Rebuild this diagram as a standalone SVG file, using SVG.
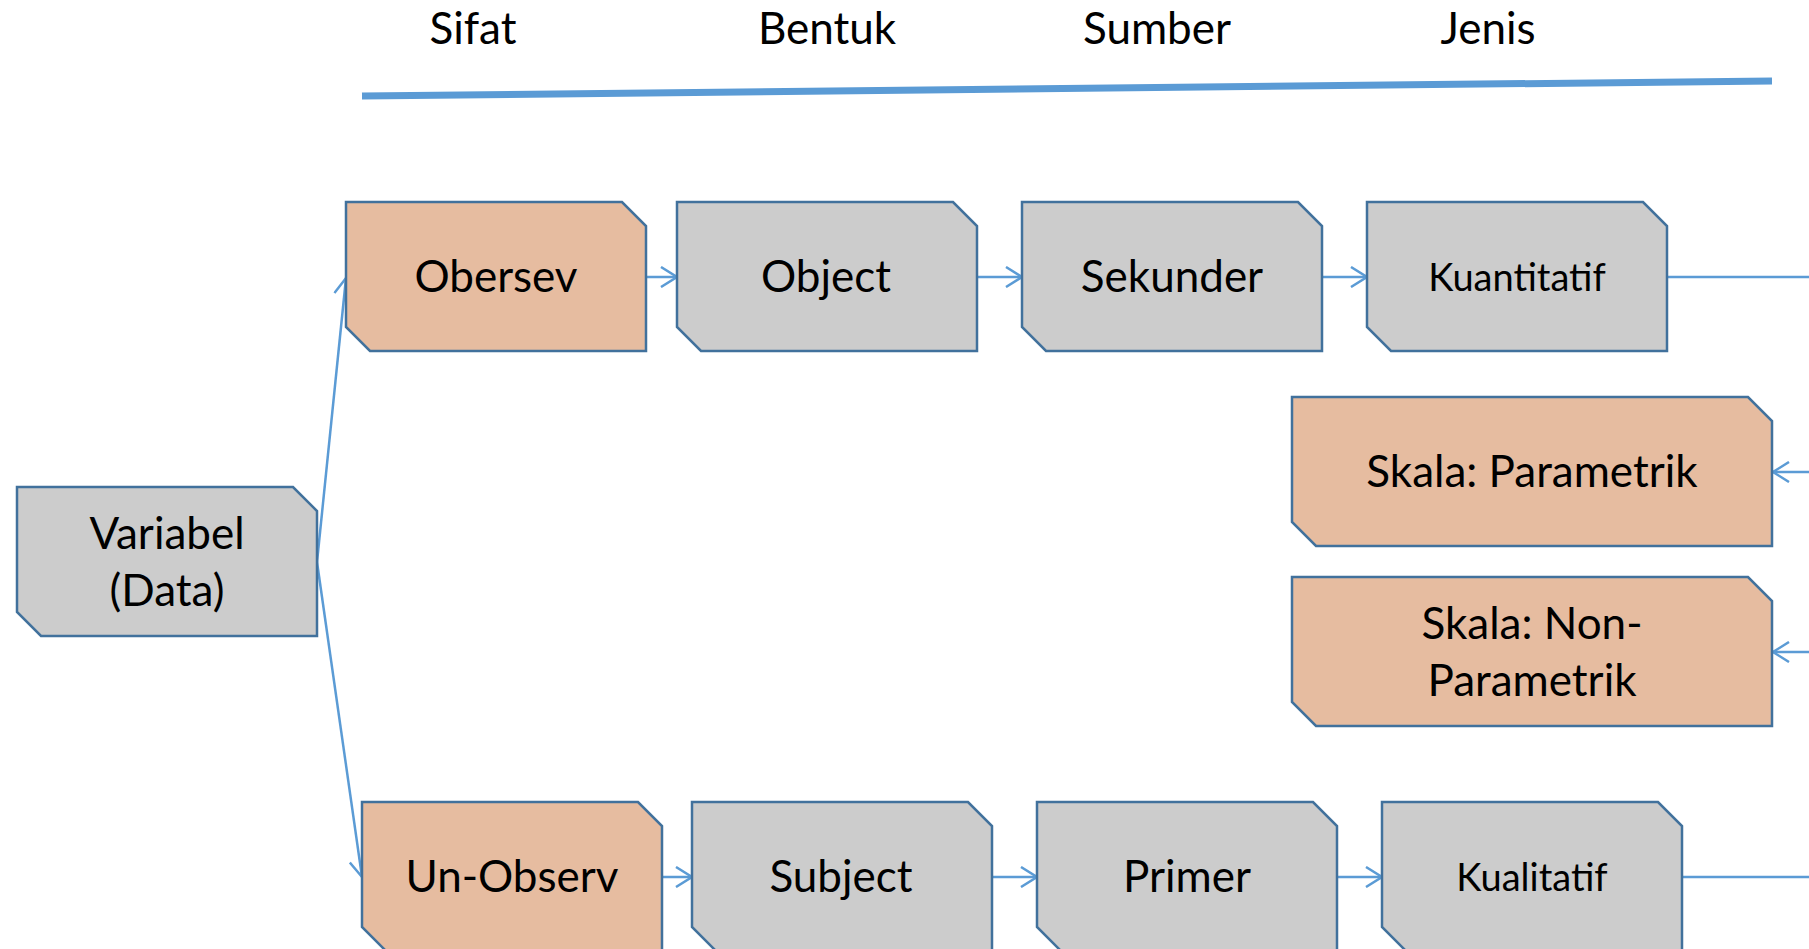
<svg xmlns="http://www.w3.org/2000/svg" width="1809" height="949" viewBox="0 0 1809 949">
  <defs>
    <style>
      .node-gray { fill: #CCCCCC; stroke: #41719C; stroke-width: 2.5; }
      .node-orange { fill: #E6BCA0; stroke: #41719C; stroke-width: 2.5; }
      .label { font-family: Lato, "Liberation Sans", sans-serif; font-size: 44px; fill: #000; text-anchor: middle; }
      .label-sm { font-size: 38px; }
      .edge { stroke: #5B9BD5; stroke-width: 2.5; fill: none; }
      .edge-arrow { marker-end: url(#arrow); }
    </style>
    <marker id="arrow" viewBox="0 0 20 22" refX="18" refY="11" markerWidth="20" markerHeight="22" markerUnits="userSpaceOnUse" orient="auto">
      <path d="M2,1 L18,11 L2,21" fill="none" stroke="#5B9BD5" stroke-width="2.5"/>
    </marker>
  </defs>

  <rect width="1809" height="949" fill="#FFFFFF"/>

  <!-- column headings -->
  <g id="headings">
    <text class="label" x="473" y="44">Sifat</text>
    <text class="label" x="827" y="44">Bentuk</text>
    <text class="label" x="1157" y="44">Sumber</text>
    <text class="label" x="1488" y="44">Jenis</text>
    <line x1="362" y1="96" x2="1772" y2="81" stroke="#5B9BD5" stroke-width="7"/>
  </g>

  <!-- connectors -->
  <g id="connectors">
    <line class="edge edge-arrow" x1="317" y1="562" x2="346" y2="278"/>
    <line class="edge edge-arrow" x1="317" y1="562" x2="362" y2="877"/>
    <line class="edge edge-arrow" x1="647" y1="277" x2="677" y2="277"/>
    <line class="edge edge-arrow" x1="977" y1="277" x2="1022" y2="277"/>
    <line class="edge edge-arrow" x1="1322" y1="277" x2="1367" y2="277"/>
    <line class="edge" x1="1667" y1="277" x2="1809" y2="277"/>
    <line class="edge edge-arrow" x1="1809" y1="472" x2="1773" y2="472"/>
    <line class="edge edge-arrow" x1="1809" y1="652" x2="1773" y2="652"/>
    <line class="edge edge-arrow" x1="662" y1="877" x2="692" y2="877"/>
    <line class="edge edge-arrow" x1="992" y1="877" x2="1037" y2="877"/>
    <line class="edge edge-arrow" x1="1337" y1="877" x2="1382" y2="877"/>
    <line class="edge" x1="1682" y1="877" x2="1809" y2="877"/>
  </g>

  <!-- nodes: rectangles with chamfered top-right and bottom-left corners -->
  <g id="node-variabel">
    <path class="node-gray" d="M17,487 H293 L317,511 V636 H41 L17,612 Z"/>
    <text class="label" x="167" y="549">Variabel</text>
    <text class="label" x="167" y="606">(Data)</text>
  </g>

  <g id="node-obersev">
    <path class="node-orange" d="M346,202 H622 L646,226 V351 H370 L346,327 Z"/>
    <text class="label" x="496" y="292">Obersev</text>
  </g>

  <g id="node-object">
    <path class="node-gray" d="M677,202 H953 L977,226 V351 H701 L677,327 Z"/>
    <text class="label" x="826" y="292">Object</text>
  </g>

  <g id="node-sekunder">
    <path class="node-gray" d="M1022,202 H1298 L1322,226 V351 H1046 L1022,327 Z"/>
    <text class="label" x="1172" y="292">Sekunder</text>
  </g>

  <g id="node-kuantitatif">
    <path class="node-gray" d="M1367,202 H1643 L1667,226 V351 H1391 L1367,327 Z"/>
    <text class="label label-sm" x="1517" y="291">Kuantitatif</text>
  </g>

  <g id="node-skala-parametrik">
    <path class="node-orange" d="M1292,397 H1748 L1772,421 V546 H1316 L1292,522 Z"/>
    <text class="label" x="1532" y="487">Skala: Parametrik</text>
  </g>

  <g id="node-skala-non-parametrik">
    <path class="node-orange" d="M1292,577 H1748 L1772,601 V726 H1316 L1292,702 Z"/>
    <text class="label" x="1532" y="639">Skala: Non-</text>
    <text class="label" x="1532" y="696">Parametrik</text>
  </g>

  <g id="node-un-observ">
    <path class="node-orange" d="M362,802 H638 L662,826 V951 H386 L362,927 Z"/>
    <text class="label" x="512" y="892">Un-Observ</text>
  </g>

  <g id="node-subject">
    <path class="node-gray" d="M692,802 H968 L992,826 V951 H716 L692,927 Z"/>
    <text class="label" x="841" y="892">Subject</text>
  </g>

  <g id="node-primer">
    <path class="node-gray" d="M1037,802 H1313 L1337,826 V951 H1061 L1037,927 Z"/>
    <text class="label" x="1187" y="892">Primer</text>
  </g>

  <g id="node-kualitatif">
    <path class="node-gray" d="M1382,802 H1658 L1682,826 V951 H1406 L1382,927 Z"/>
    <text class="label label-sm" x="1532" y="891">Kualitatif</text>
  </g>
</svg>
